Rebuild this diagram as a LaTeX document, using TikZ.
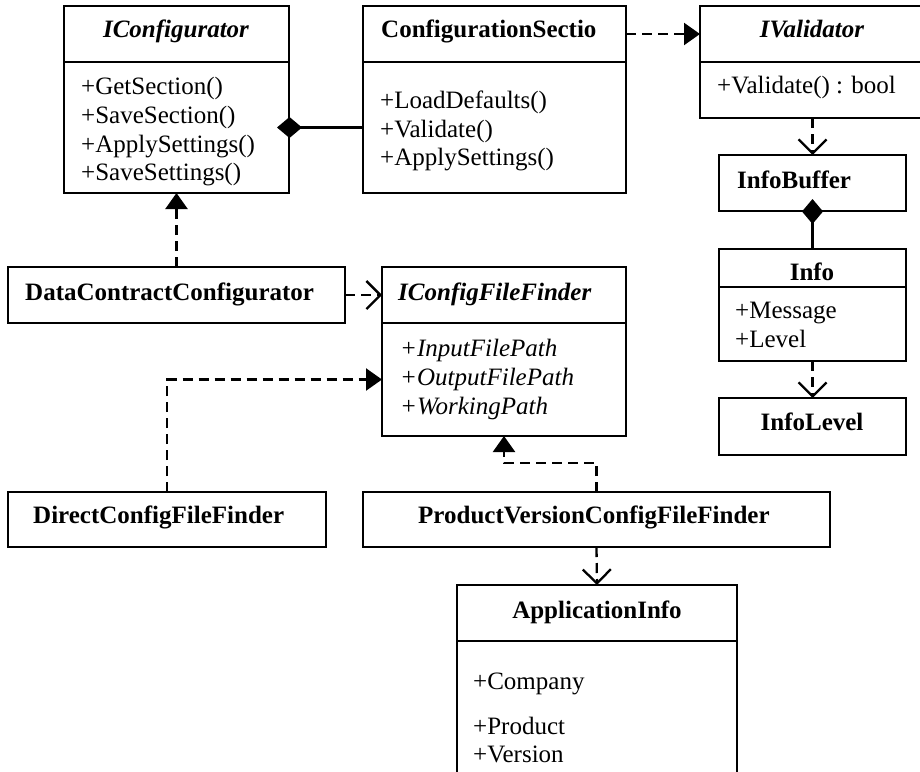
\documentclass[tikz,border=0pt]{standalone}
\usepackage{fontspec}
\setmainfont{Liberation Serif}
\usetikzlibrary{arrows.meta}
\tikzset{
  box/.style={draw, line width=2.3pt, inner sep=0pt, outer sep=0pt},
  txt/.style={inner sep=0pt, anchor=base west, font=\fontsize{25}{29}\selectfont},
  ctxt/.style={inner sep=0pt, anchor=base, font=\fontsize{25}{29}\selectfont},
  conn/.style={line width=2.3pt},
  dep/.style={line width=2.3pt, dash pattern=on 10pt off 6pt},
  realize/.style={dep, -{Triangle[length=16pt,width=22pt]}},
  use/.style={dep, -{Straight Barb[length=14pt,width=28pt,line width=2.3pt]}},
  compo/.style={conn, {Diamond[length=25pt,width=21pt]}-}
}
\begin{document}
\begin{tikzpicture}[x=1pt,y=-1pt]
\useasboundingbox (0,0) rectangle (920,771);
\clip (0,0) rectangle (920,771);
% IConfigurator
\node[box, minimum width=225pt, minimum height=56pt] (icfgh) at (176.5,34) {};
\node[box, minimum width=225pt, minimum height=131pt] (icfgb) at (176.5,127.5) {};
\node[ctxt, font=\fontsize{25}{29}\selectfont\bfseries\itshape] (icfgt) at (176,37) {IConfigurator};
\node[txt] (icfg1) at (81,94) {+GetSection()};
\node[txt] (icfg2) at (81,123) {+SaveSection()};
\node[txt] (icfg3) at (81,152) {+ApplySettings()};
\node[txt] (icfg4) at (81,180.5) {+SaveSettings()};
% ConfigurationSectio
\node[box, minimum width=263pt, minimum height=56pt] (csh) at (494.5,34) {};
\node[box, minimum width=263pt, minimum height=131pt] (csb) at (494.5,127.5) {};
\node[txt, font=\fontsize{25}{29}\selectfont\bfseries] (cst) at (381,37) {ConfigurationSectio};
\node[txt] (cs1) at (380,108) {+LoadDefaults()};
\node[txt] (cs2) at (380,137) {+Validate()};
\node[txt] (cs3) at (380,165) {+ApplySettings()};
% IValidator
\node[box, minimum width=225pt, minimum height=56pt] (ivh) at (812.5,34) {};
\node[box, minimum width=225pt, minimum height=56pt] (ivb) at (812.5,90) {};
\node[ctxt, font=\fontsize{25}{29}\selectfont\bfseries\itshape] (ivt) at (812,37) {IValidator};
\node[txt] (iv1) at (717,93) {+Validate() : bool};
% InfoBuffer
\node[box, minimum width=187pt, minimum height=56pt] (ib) at (812.5,183) {};
\node[txt, font=\fontsize{25}{29}\selectfont\bfseries] (ibt) at (737,188) {InfoBuffer};
% Info
\node[box, minimum width=187pt, minimum height=38pt] (infh) at (812.5,268) {};
\node[box, minimum width=187pt, minimum height=74pt] (infb) at (812.5,324) {};
\node[ctxt, font=\fontsize{25}{29}\selectfont\bfseries] (inft) at (812,280) {Info};
\node[txt] (inf1) at (735,318) {+Message};
\node[txt] (inf2) at (735,347) {+Level};
% InfoLevel
\node[box, minimum width=187pt, minimum height=57pt] (il) at (812.5,426.5) {};
\node[ctxt, font=\fontsize{25}{29}\selectfont\bfseries] (ilt) at (812,430) {InfoLevel};
% DataContractConfigurator
\node[box, minimum width=337pt, minimum height=56pt] (dcc) at (176.5,295) {};
\node[txt, font=\fontsize{25}{29}\selectfont\bfseries] (dcct) at (25,300) {DataContractConfigurator};
% IConfigFileFinder
\node[box, minimum width=244pt, minimum height=56pt] (icffh) at (504,295) {};
\node[box, minimum width=244pt, minimum height=113pt] (icffb) at (504,379.5) {};
\node[txt, font=\fontsize{25}{29}\selectfont\bfseries\itshape] (icfft) at (398,300) {IConfigFileFinder};
\node[txt, font=\fontsize{25}{29}\selectfont\itshape] (icff1) at (400,356) {+InputFilePath};
\node[txt, font=\fontsize{25}{29}\selectfont\itshape] (icff2) at (400,385) {+OutputFilePath};
\node[txt, font=\fontsize{25}{29}\selectfont\itshape] (icff3) at (400,414) {+WorkingPath};
% DirectConfigFileFinder
\node[box, minimum width=318pt, minimum height=55pt] (dcff) at (167,519.5) {};
\node[txt, font=\fontsize{25}{29}\selectfont\bfseries] (dcfft) at (33,523) {DirectConfigFileFinder};
% ProductVersionConfigFileFinder
\node[box, minimum width=467pt, minimum height=55pt] (pv) at (596.5,519.5) {};
\node[txt, font=\fontsize{25}{29}\selectfont\bfseries] (pvt) at (418,523) {ProductVersionConfigFileFinder};
% ApplicationInfo
\node[box, minimum width=280pt, minimum height=56pt] (aih) at (597,613) {};
\node[box, minimum width=280pt, minimum height=159pt] (aib) at (597,720.5) {};
\node[ctxt, font=\fontsize{25}{29}\selectfont\bfseries] (ait) at (597,618) {ApplicationInfo};
\node[txt] (ai1) at (473,689) {+Company};
\node[txt] (ai2) at (473,734) {+Product};
\node[txt] (ai3) at (473,762) {+Version};
% connectors
\draw[compo] ([xshift=-12pt]icfgb.east) -- (csb.west);
\draw[realize] (csh.east) -- (ivh.west);
\draw[use] (ivb.south) -- (ib.north);
\draw[compo] ([yshift=12pt]ib.south) -- (infh.north);
\draw[use] (infb.south) -- (il.north);
\draw[realize] (dcc.north) -- (icfgb.south);
\draw[use] (dcc.east) -- (icffh.west);
\draw[realize] (dcff.north) |- (icffb.west);
\draw[realize] (pv.north) -- ++(0,-29) -| (icffb.south);
\draw[use] (pv.south) -- (aih.north);
\end{tikzpicture}
\end{document}
